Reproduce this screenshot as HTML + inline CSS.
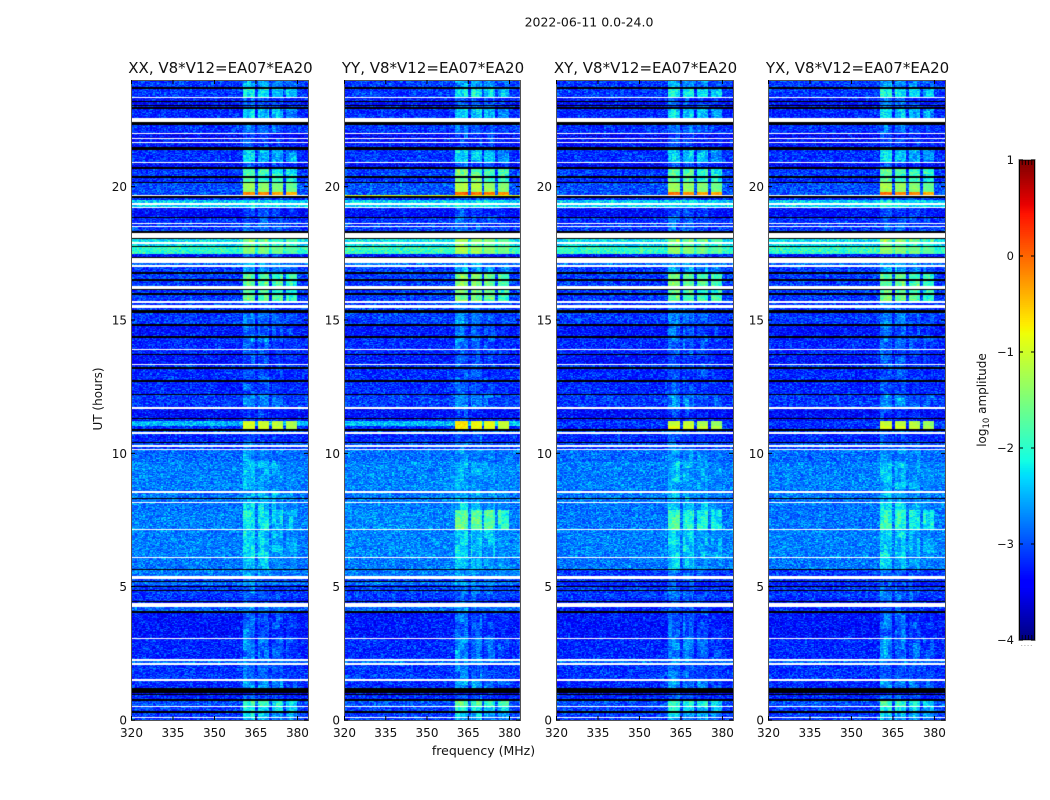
<!DOCTYPE html>
<html>
<head>
<meta charset="utf-8">
<title>Spectrogram waterfall 2022-06-11</title>
<style>
html,body{margin:0;padding:0;background:#fff;}
#figure{position:relative;width:1050px;height:800px;background:#fff;overflow:hidden;font-family:"DejaVu Sans","Liberation Sans",sans-serif;}
canvas{position:absolute;top:80px;}
svg{position:absolute;left:0;top:0;}
text{font-family:"DejaVu Sans","Liberation Sans",sans-serif;fill:#111;}
</style>
</head>
<body>
<div id="figure">
<canvas id="cv0" width="177" height="640" style="left:131px"></canvas>
<canvas id="cv1" width="177" height="640" style="left:344px"></canvas>
<canvas id="cv2" width="177" height="640" style="left:556px"></canvas>
<canvas id="cv3" width="177" height="640" style="left:768px"></canvas>
<svg id="ov" width="1050" height="800">
<text x="589" y="26.5" font-size="12.5" text-anchor="middle">2022-06-11 0.0-24.0</text>
<text x="483.5" y="755" font-size="12.5" text-anchor="middle">frequency (MHz)</text>
<text x="102" y="399" font-size="12" text-anchor="middle" transform="rotate(-90 102 399)">UT (hours)</text>
<text x="986" y="400" font-size="12" text-anchor="middle" transform="rotate(-90 986 400)">log<tspan font-size="8.5" dy="3">10</tspan><tspan dy="-3"> amplitude</tspan></text>
</svg>
</div>
<script>
// ---- Chart data ----
const panelTitles = ["XX, V8*V12=EA07*EA20","YY, V8*V12=EA07*EA20","XY, V8*V12=EA07*EA20","YX, V8*V12=EA07*EA20"];
const xTicks = [320,335,350,365,380];
const yTicks = [0,5,10,15,20];
const cbarTicks = [-4,-3,-2,-1,0,1];
const W = null;   // flagged: no data (drawn white)
const K = -99;    // blanked row (drawn black)

// Upper UT edge (hours) of each time segment
const segTop = [
 .09,.13,.28,.32,.47,.51,.73,.77,.81,.84,
 .92,.96,1.01,1.20,1.46,1.52,1.71,1.74,2.08,2.12,
 2.23,2.27,3.02,3.06,4.03,4.07,4.22,4.39,4.44,4.48,
 4.56,4.59,4.82,4.86,4.97,5.01,5.06,5.18,5.21,5.29,
 5.40,5.63,5.68,6.09,6.13,7.14,7.18,7.88,8.12,8.16,
 8.27,8.33,8.53,8.57,8.61,8.64,9.66,9.69,10.11,10.16,
 10.24,10.31,10.39,10.44,10.74,10.80,10.84,10.91,11.03,11.21,
 11.27,11.31,11.68,11.72,12.17,12.22,12.51,12.54,12.69,12.75,
 13.11,13.14,13.18,13.24,13.31,13.35,13.67,13.72,13.89,13.93,
 14.16,14.19,14.34,14.40,14.79,14.85,15.26,15.38,15.45,15.56,
 15.62,15.71,15.94,16.00,16.13,16.18,16.26,16.48,16.55,16.74,
 16.79,17.00,17.06,17.15,17.34,17.38,17.49,17.72,17.78,17.85,
 17.91,18.02,18.08,18.25,18.33,18.48,18.51,18.60,18.64,18.83,
 18.87,19.21,19.25,19.33,19.37,19.50,19.56,19.64,19.67,19.80,
 20.14,20.19,20.34,20.40,20.66,20.74,20.89,20.93,21.36,21.49,
 21.64,21.68,21.77,21.81,21.98,22.01,22.31,22.43,22.58,22.91,
 22.99,23.03,23.06,23.19,23.23,23.33,23.36,23.66,23.72,24
];
// Background log10 amplitude of each segment
const segBackground = [
 -3.1,W,-3.1,K,-3.1,W,-3.0,K,-3.2,K,
 -3.2,K,-3.4,K,-3.2,W,-3.1,W,-3.15,W,
 -2.85,W,-3.2,W,-3.3,K,-2.9,W,-3.2,K,
 -3.2,K,-3.1,K,-3.1,K,-3.3,-2.8,K,-3.1,
 W,-2.8,K,-2.8,W,-2.75,W,-2.75,-2.8,W,
 -2.8,K,-2.8,W,-2.9,W,-2.75,W,-2.85,W,
 -3.1,W,-3.0,K,-3.2,W,-3.0,K,-3.2,-2.45,
 -3.3,K,-3.35,W,-3.1,K,-3.2,W,-3.2,K,
 -3.2,W,-3.2,K,-3.1,W,-3.3,K,-3.2,W,
 -3.2,W,-3.2,K,-3.3,K,-3.1,K,-3.1,W,
 -3.1,W,-3.1,K,-3.1,K,W,-3.1,K,-3.1,
 K,-3.1,W,-2.85,W,K,-3.3,-1.95,K,-2.3,
 W,-2.25,K,W,K,-3.1,W,-3.1,W,-3.15,
 K,-3.35,W,-2.35,W,-2.35,-3.2,K,W,-3.0,
 -3.0,K,-3.2,K,-3.1,K,-3.4,W,-3.15,K,
 -3.3,W,-3.3,W,-3.4,W,-3.15,K,W,-3.2,
 K,-3.3,K,-3.3,K,-3.3,W,-3.1,K,-3.1
];
// Peak log10 amplitude inside the 360-380 MHz sub-bands of each segment
const segRfi = [
 -2.6,W,-2.4,K,-2.2,W,-2.0,K,-3.0,K,
 -3.0,K,-3.3,K,-2.7,W,-2.95,W,-2.95,W,
 -2.8,W,-2.8,W,-2.95,K,-2.8,W,-3.0,K,
 -3.0,K,-2.9,K,-3.0,K,-3.1,-2.75,K,-3.0,
 W,-2.7,K,-2.5,W,-2.4,W,-2.1,-2.45,W,
 -2.6,K,-2.55,W,-2.8,W,-2.55,W,-2.7,W,
 -3.0,W,-2.9,K,-3.1,W,-2.9,K,-1.0,-1.0,
 -3.2,K,-3.15,W,-2.75,K,-3.05,W,-3.05,K,
 -3.0,W,-3.05,K,-2.95,W,-3.05,K,-3.0,W,
 -2.95,W,-2.85,K,-2.95,K,-2.85,K,-3.0,W,
 -3.0,W,-1.75,K,-1.8,K,W,-1.75,K,-1.8,
 K,-2.6,W,-2.6,W,K,-3.1,-1.5,K,-1.8,
 W,-1.6,K,W,K,-2.95,W,-2.95,W,-3.0,
 K,-3.05,W,-2.3,W,-2.3,-3.05,K,W,-0.2,
 -1.4,K,-1.9,K,-1.9,K,-3.05,W,-2.45,K,
 -3.1,W,-3.05,W,-3.15,W,-2.85,K,W,-2.4,
 K,-3.05,K,-2.95,K,-3.05,W,-2.2,K,-2.65
];
// Edges (MHz) of the four bright sub-bands and their relative strength
const subbandStart = [360.5,366,371,376];
const subbandEnd = [365,370,375,380];
const subbandOffset = [0.08,0,-0.12,-0.25];
// Per-polarisation level offsets [XX,YY,XY,YX]
const panelBgOffset = [0,0.03,0,0];
const panelRfiOffset = [0,0.2,0.05,0.05];
// Individual departures from the shared segment values (1-based segment number)
const overrideSegment = [139,70,70,38,38,42,42,27,27,48,48,48,48];
const overridePanel   = [1,2,3,2,3,2,3,2,3,0,1,2,3];
const overrideBg      = [-0.9,-3.1,-3.1,-3.2,-3.2,-3.1,-3.1,-3.2,-3.2,-2.75,-2.7,-2.8,-2.8];
const overrideRfi     = [-0.9,-1.1,-1.1,-3.0,-3.0,-2.9,-2.9,-3.0,-3.0,-2.25,-1.75,-2.0,-2.0];
// Hand-typed speckle tile (log10 offsets; approximates the noise, not per-pixel data)
const grain = [
 -.22,.05,-.31,.18,-.08,.33,-.15,.02,-.27,.11,.46,-.19,-.04,.24,-.33,.08,
 -.12,.15,-.25,.38,-.06,-.29,.21,.0,-.17,.09,-.35,.28,-.1,.13,-.23,.52,
 -.02,-.3,.17,-.14,.06,.31,-.26,-.07,.12,-.2,.26,-.11,.03,.41,-.28
];
// Hand-typed coarse mottling tile for the weak interference blobs
const mottle = [
 .1,-.2,.25,-.05,.3,-.15,0,.2,-.25,.05,.35,-.1,-.3,.15,.0,-.18,.28,-.08,.12,-.22,.22,-.12,.06
];

// ---- Axis functions ----
const panelLeft = [131,344,556,768];
const panelWidth = [177,176,177,177];
const plotTop = 80, plotBottom = 720;
const freqMin = 320, freqMax = 384, utMin = 0, utMax = 24;
const cbarMin = -4, cbarMax = 1, cbarTop = 160, cbarBottom = 640, cbarLeft = 1019, cbarRight = 1035;
const NCHAN = 128, NROWS = 640;
function xPos(panel, mhz){ return panelWidth[panel]*(mhz-freqMin)/(freqMax-freqMin); }
function yPos(h){ return plotBottom-(plotBottom-plotTop)*(h-utMin)/(utMax-utMin); }
function cbarY(v){ return cbarBottom-(cbarBottom-cbarTop)*(v-cbarMin)/(cbarMax-cbarMin); }

// ---- Jet colour map ----
const redStops = [[0,0],[.35,0],[.66,1],[.89,1],[1,.5]];
const greenStops = [[0,0],[.125,0],[.375,1],[.64,1],[.91,0],[1,0]];
const blueStops = [[0,.5],[.11,1],[.34,1],[.65,0],[1,0]];
function interp(st,t){
  for(let i=1;i<st.length;i++){
    if(t<=st[i][0]){
      const a=st[i-1],b=st[i];
      return a[1]+(b[1]-a[1])*(t-a[0])/(b[0]-a[0]);
    }
  }
  return st[st.length-1][1];
}
const colorCache = {};
function jet(v){
  let t=(v-cbarMin)/(cbarMax-cbarMin);
  t=Math.max(0,Math.min(1,t));
  const q=Math.round(t*255);
  if(colorCache[q]) return colorCache[q];
  const u=q/255;
  const c="rgb("+Math.round(255*interp(redStops,u))+","+Math.round(255*interp(greenStops,u))+","+Math.round(255*interp(blueStops,u))+")";
  colorCache[q]=c;
  return c;
}

// ---- Heatmaps ----
function segmentIndex(h){
  for(let i=0;i<segTop.length;i++){ if(h<segTop[i]) return i; }
  return segTop.length-1;
}
function segValues(i,panel){
  let bg=segBackground[i], rfi=segRfi[i], own=false;
  for(let k=0;k<overrideSegment.length;k++){
    if(overrideSegment[k]===i+1 && overridePanel[k]===panel){ bg=overrideBg[k]; rfi=overrideRfi[k]; own=true; }
  }
  if(bg===W||bg===K) return {bg:bg,rfi:rfi};
  if(own) return {bg:bg,rfi:rfi};
  return {bg:bg+panelBgOffset[panel],rfi:rfi+(rfi>-2.2?panelRfiOffset[panel]:0)};
}
function subbandOf(mhz){
  for(let s=0;s<subbandStart.length;s++){
    if(mhz>=subbandStart[s] && mhz<subbandEnd[s]) return s;
  }
  return -1;
}
function speckle(r,c,p){
  const n=(((r*73856093)^(c*19349663)^(p*83492791))>>>0)%grain.length;
  return grain[n];
}
function blob(r,c,p){
  const n=(((Math.floor(r/7)*73856093)^(Math.floor(c/3)*19349663)^(p*83492791))>>>0)%mottle.length;
  return mottle[n];
}
function drawPanel(p){
  const ctx=document.getElementById("cv"+p).getContext("2d");
  const df=(freqMax-freqMin)/NCHAN, dh=(utMax-utMin)/NROWS;
  for(let r=0;r<NROWS;r++){
    const h=utMin+(r+.5)*dh;
    const sv=segValues(segmentIndex(h),p);
    const y=yPos(h+dh/2)-plotTop;
    if(sv.bg===W){ ctx.fillStyle="#fff"; ctx.fillRect(0,y,panelWidth[p],1); continue; }
    if(sv.bg===K){ ctx.fillStyle="#000"; ctx.fillRect(0,y,panelWidth[p],1); continue; }
    for(let c=0;c<NCHAN;c++){
      const f=freqMin+(c+.5)*df;
      const s=subbandOf(f);
      const x0=Math.round(xPos(p,freqMin+c*df)), x1=Math.round(xPos(p,freqMin+(c+1)*df));
      const g=speckle(r,c,p);
      let v=sv.bg+g;
      if(s>=0){
        const weak=sv.rfi<-1.5;
        const level=sv.rfi+subbandOffset[s]+blob(r,c,p)*(weak?.7:.25);
        v=Math.max(sv.bg,level)+g*(weak?.8:.4);
      }
      ctx.fillStyle=jet(v);
      ctx.fillRect(x0,y,x1-x0,1);
    }
  }
}
[0,1,2,3].forEach(drawPanel);

// ---- Axes, ticks and labels ----
const ov=document.getElementById("ov");
const NS="http://www.w3.org/2000/svg";
function mk(tag,attrs,txt){
  const e=document.createElementNS(NS,tag);
  for(const k in attrs){ e.setAttribute(k,attrs[k]); }
  if(txt!==undefined){ e.textContent=txt; }
  ov.appendChild(e);
  return e;
}
panelTitles.forEach(function(title,p){
  const L=panelLeft[p], R=L+panelWidth[p];
  const t=mk("text",{x:L+panelWidth[p]/2+1,y:73,"font-size":15,"text-anchor":"middle"},title);
  
  
  const fr=mk("rect",{x:L+.5,y:plotTop+.5,width:panelWidth[p],height:plotBottom-plotTop,fill:"none",stroke:"#555","stroke-width":1});
  
  
  xTicks.forEach(function(v){
    const x=L+xPos(p,v)+.5;
    const a=mk("line",{x1:x,x2:x,y1:plotBottom,y2:plotBottom-4,stroke:"#000","stroke-width":1});
    
    
    const b=mk("line",{x1:x,x2:x,y1:plotTop,y2:plotTop+4,stroke:"#000","stroke-width":1});
    
    
    const l=mk("text",{x:x,y:737,"font-size":12,"text-anchor":"middle"},String(v));
    
    
  });
  yTicks.forEach(function(v){
    const y=yPos(v);
    const a=mk("line",{x1:L,x2:L+4,y1:y,y2:y,stroke:"#000","stroke-width":1});
    
    
    const b=mk("line",{x1:R,x2:R-4,y1:y,y2:y,stroke:"#000","stroke-width":1});
    
    
    const l=mk("text",{x:L-4,y:y+4.5,"font-size":12,"text-anchor":"end"},String(v));
    
    
  });
});

// ---- Colour bar ----
for(let i=0;i<256;i++){
  const v0=cbarMin+(cbarMax-cbarMin)*i/256, v1=cbarMin+(cbarMax-cbarMin)*(i+1)/256;
  const y1=cbarY(v1), y0=cbarY(v0);
  const s=mk("rect",{x:cbarLeft,y:y1,width:cbarRight-cbarLeft,height:y0-y1+.6,fill:jet((v0+v1)/2)});
  
  
}
const cbFrame=mk("rect",{x:cbarLeft+.5,y:cbarTop,width:cbarRight-cbarLeft-1,height:cbarBottom-cbarTop,fill:"none",stroke:"#000","stroke-width":1});


const cbOuter=mk("rect",{x:cbarLeft-.5,y:cbarTop-.5,width:cbarRight-cbarLeft+1,height:cbarBottom-cbarTop+1,fill:"none",stroke:"#bbb","stroke-width":1});


cbarTicks.forEach(function(v){
  const y=cbarY(v);
  const a=mk("line",{x1:cbarLeft,x2:cbarLeft+4,y1:y,y2:y,stroke:"#000","stroke-width":1});
  
  
  const b=mk("line",{x1:cbarRight,x2:cbarRight-4,y1:y,y2:y,stroke:"#000","stroke-width":1});
  
  
  const l=mk("text",{x:1014,y:y+4,"font-size":11.5,"text-anchor":"end"},(v<0?"\u2212":"")+Math.abs(v));
  
  
});
const cbMinorFractions = [0.2,0.4,0.6,0.8];
cbMinorFractions.forEach(function(fr){
  const x=cbarLeft+(cbarRight-cbarLeft)*fr;
  const a=mk("line",{x1:x,x2:x,y1:cbarTop,y2:cbarTop+5,stroke:"#000","stroke-width":.8});
  
  
  const b=mk("line",{x1:x,x2:x,y1:cbarBottom,y2:cbarBottom-5,stroke:"#000","stroke-width":.8});
  
  
  const d=mk("rect",{x:x-1,y:645,width:1,height:1,fill:"#aaa"});
  
  
});
</script>
</body>
</html>
